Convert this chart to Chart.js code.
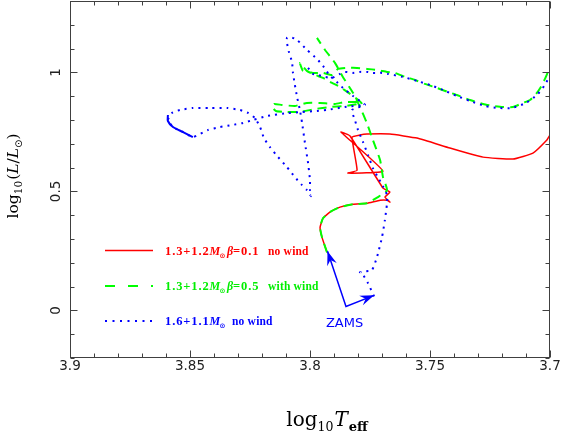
<!DOCTYPE html>
<html><head><meta charset="utf-8">
<script src="https://cdn.jsdelivr.net/npm/chart.js@4.4.1/dist/chart.umd.min.js"></script>
<style>html,body{margin:0;padding:0;background:#fff;}canvas{display:block;}</style>
</head><body>
<canvas id="c" width="561" height="436"></canvas>
<script>
// ---- axis ticks ----
const xMajorTicks = [3.9, 3.85, 3.8, 3.75, 3.7];
const yMajorTicks = [0, 0.5, 1];
const yTickLabels = ['0', '0.5', '1'];

// ---- tracks: [log Teff, log L/Lsun]; null = gap ----
const redTrack = [[3.7929,0.244],[3.795,0.307],[3.7958,0.349],[3.7946,0.387],[3.7917,0.413],[3.7875,0.434],[3.7821,0.446],[3.7763,0.450],[3.7708,0.463],[3.7679,0.463],[3.7667,0.455],[3.7688,0.476],[3.7667,0.497],[3.7696,0.514],[3.7833,0.733],[3.7871,0.75],[3.7858,0.737],[3.7696,0.585],[3.7842,0.577],[3.7804,0.589],[3.7825,0.728],[3.7792,0.737],[3.7763,0.741],[3.7667,0.741],[3.7554,0.724],[3.7417,0.682],[3.7279,0.644],[3.7154,0.636],[3.7071,0.661],[3.7013,0.716],[3.7,0.737]];

const greenTrack = [[3.7929,0.244],[3.795,0.307],[3.7958,0.349],[3.7946,0.387],[3.7917,0.413],[3.7875,0.434],[3.7821,0.446],[3.7763,0.450],[3.7717,0.476],[3.7679,0.505],[3.7696,0.56],[3.7708,0.632],[3.7738,0.716],[3.7763,0.787],[3.7792,0.855],[3.7821,0.914],[3.7863,0.981],[3.7896,1.04],[3.7938,1.095],[3.7971,1.145],
null,
[3.7804,0.8758],[3.7854,0.8758],[3.7896,0.8674],[3.7958,0.8716],[3.8013,0.8716],[3.8063,0.8589],[3.8117,0.8632],[3.815,0.8674],[3.8158,0.8547],[3.8142,0.8379],[3.8096,0.8337],[3.8042,0.8337],[3.7979,0.8463],[3.7917,0.8547],[3.7854,0.8589],[3.78,0.8674],[3.7783,0.8674],[3.7804,0.8884],[3.7833,0.9095],[3.7875,0.9389],[3.7908,0.9558],[3.7946,0.9768],[3.7979,0.9895],[3.8013,1.0063],[3.8042,1.04],[3.8029,1.0063],[3.7988,0.9979],[3.7946,0.9979],[3.7908,0.9895],[3.7883,1.0147],[3.7842,1.0189],[3.7804,1.0189],[3.7763,1.0147],[3.7721,1.0105],[3.7679,1.0021],[3.7646,0.9979],[3.7604,0.9811],[3.7563,0.9684],[3.7521,0.9516],[3.7471,0.9347],[3.7425,0.9179],[3.7388,0.9053],[3.7333,0.8842],[3.7279,0.8674],[3.7238,0.8589],[3.7196,0.8547],[3.7154,0.8547],[3.7113,0.8716],[3.7083,0.8842],[3.7058,0.9095],[3.7038,0.9389],[3.7021,0.9726],[3.7,1.0232]];

const blueTrack = [[3.7733,0.0589],[3.7758,0.1137],[3.7783,0.1558],[3.7792,0.16],[3.7767,0.1642],[3.7742,0.1684],[3.7721,0.2232],[3.77,0.3074],[3.7688,0.3789],[3.7679,0.4505],[3.7679,0.4842],
[3.7696,0.5221],[3.7717,0.56],[3.7738,0.5979],[3.7758,0.6526],[3.7779,0.7074],[3.78,0.7579],[3.7813,0.8],[3.7825,0.8421],
[3.7771,0.8632],[3.7792,0.88],[3.7821,0.9011],[3.7863,0.9347],[3.7888,0.96],[3.7917,0.9853],[3.7946,1.0274],[3.7971,1.0568],[3.8013,1.0947],[3.8054,1.1368],[3.8083,1.1495],[3.8096,1.1453],[3.8096,1.1242],[3.8088,1.0863],[3.8075,1.0442],[3.8071,0.9979],[3.8063,0.9474],[3.8054,0.8968],[3.8042,0.8421],[3.8033,0.7874],[3.8021,0.7032],[3.8008,0.6189],[3.8,0.5474],[3.8,0.5053],[3.7996,0.48],
[3.8013,0.5053],[3.8033,0.5263],[3.8063,0.56],[3.8096,0.6021],[3.8133,0.6442],[3.8167,0.6863],[3.8192,0.7242],[3.8208,0.7705],[3.8229,0.8084],[3.8258,0.8295],[3.8292,0.8421],[3.8346,0.8505],[3.8417,0.8505],[3.8488,0.8505],[3.8542,0.8421],[3.8575,0.8295],[3.8592,0.8],[3.8571,0.7705],[3.8529,0.7495],[3.8488,0.7284],
[3.8425,0.7579],[3.8375,0.7705],[3.8325,0.7789],[3.8279,0.7874],[3.8238,0.8],[3.8179,0.8168],[3.8092,0.8295],[3.8033,0.8337],[3.7971,0.8379],[3.7929,0.8421],[3.7854,0.8547],[3.7771,0.8632],
null,
[3.8008,1.0189],[3.7988,0.9937],[3.7967,0.9895],[3.7938,0.9811],[3.7908,0.9768],[3.7875,0.9937],[3.7854,1.0021],[3.7821,0.9979],[3.7792,1.0021],[3.7763,1.0021],[3.7738,0.9979],[3.77,0.9979],[3.7675,0.9937],[3.7613,0.9811],[3.7554,0.9642],[3.75,0.9474],[3.7446,0.9263],[3.7388,0.9011],[3.7333,0.88],[3.7271,0.8589],[3.7217,0.8505],[3.7158,0.8505],[3.71,0.8716],[3.7054,0.9053],[3.7021,0.9474],[3.7008,0.9726],[3.7,0.9895]];

const blueSlowPart = [[3.8592,0.8211],[3.8592,0.7958],[3.8571,0.7705],[3.8529,0.7495],[3.8488,0.7284]];

// ZAMS annotation: arrow tip (red/green start), vertex, arrow tip (blue start)
const zamsArrow = [[3.7927,0.2484],[3.785,0.0168],[3.7733,0.0632]];
const zamsLabelAt = [3.7856,-0.05];

const toXY = arr => arr.map(p => p ? {x:p[0], y:p[1]} : {x:NaN, y:NaN});

const RED='#ff0000', GREEN='#00ff00', BLUE='#0000ff';

function rich(ctx, x, y, parts){
  let cx = x;
  for (const p of parts){ ctx.font = p[1]; ctx.fillText(p[0], cx, y + (p[2]||0)); cx += ctx.measureText(p[0]).width + (p[3]||0); }
  return cx - x;
}
function richW(ctx, parts){ let w=0; for (const p of parts){ ctx.font=p[1]; w += ctx.measureText(p[0]).width + (p[3]||0);} return w; }
// parts placed at explicit x offsets: [text, font, dx, dy, letterSpacing]
function placed(ctx, x, y, parts){
  for (const p of parts){
    ctx.font=p[1];
    if ('letterSpacing' in ctx) ctx.letterSpacing = (p[4]||0)+'px';
    ctx.fillText(p[0], x+p[2], y+(p[3]||0));
  }
  if ('letterSpacing' in ctx) ctx.letterSpacing='0px';
}

function arrowHead(ctx, x0,y0,x1,y1){
  const ang=Math.atan2(y1-y0,x1-x0), len=14, w=5;
  ctx.save(); ctx.translate(x1,y1); ctx.rotate(ang);
  ctx.beginPath(); ctx.moveTo(0,0); ctx.lineTo(-len,-w); ctx.lineTo(-len*0.65,0); ctx.lineTo(-len,w); ctx.closePath(); ctx.fill();
  ctx.restore();
}

const decor = {
  id:'decor',
  afterDatasetsDraw(chart){
    const {ctx, chartArea:a, scales:{x,y}} = chart;
    ctx.save();
    ctx.setLineDash([]);
    // frame
    ctx.strokeStyle='#404040'; ctx.lineWidth=1;
    const L=Math.round(a.left)+0.5, R=Math.round(a.right)-0.5, T=Math.round(a.top)+0.5, B=Math.round(a.bottom)-0.5;
    ctx.strokeRect(L,T,R-L,B-T);
    ctx.beginPath();
    for (let i=0;i<=20;i++){
      const v=3.7+i*0.01, px=Math.round(x.getPixelForValue(v))+0.5, len=(i%5===0)?7:4;
      ctx.moveTo(px,B); ctx.lineTo(px,B-len); ctx.moveTo(px,T); ctx.lineTo(px,T+len);
    }
    for (let i=0;i<=15;i++){
      const v=-0.2+i*0.1, py=Math.round(y.getPixelForValue(v))+0.5, len=((i-2)%5===0)?7:4;
      ctx.moveTo(L,py); ctx.lineTo(L+len,py); ctx.moveTo(R,py); ctx.lineTo(R-len,py);
    }
    ctx.stroke();

    // y tick labels (rotated)
    ctx.fillStyle='#222'; ctx.font='13.5px "DejaVu Sans"'; ctx.textAlign='center'; ctx.textBaseline='alphabetic';
    yMajorTicks.forEach((v,i)=>{
      ctx.save(); ctx.translate(a.left-10, y.getPixelForValue(v)); ctx.rotate(-Math.PI/2);
      ctx.fillText(yTickLabels[i],0,0); ctx.restore();
    });
    ctx.textAlign='left';

    // axis titles
    const F='15.5px "DejaVu Serif"', FI='italic 15.5px "DejaVu Serif"', FS='10.5px "DejaVu Serif"';
    const yt=[['log',F],['10',FS,4,1],['(',F],['L',FI],['/',F],['L',FI],['\u2299','10px "DejaVu Sans"',4],[')',F]];
    ctx.fillStyle='#000';
    ctx.save(); ctx.translate(18,176); ctx.rotate(-Math.PI/2);
    rich(ctx,-richW(ctx,yt)/2,0,yt); ctx.restore();
    const XF='20px "DejaVu Serif"', XFI='italic 20px "DejaVu Serif"';
    const xt=[['log',XF],['10','12.5px "DejaVu Serif"',5,1],['T',XFI,0,1],['eff','bold 13px "DejaVu Serif"',5]];
    rich(ctx,327-richW(ctx,xt)/2,426,xt);

    // legend
    const lx0=a.left+35, lx1=a.left+83, tx=a.left+95;
    ctx.lineWidth=1.5; ctx.strokeStyle=RED; ctx.setLineDash([]);
    ctx.beginPath(); ctx.moveTo(lx0,250.5); ctx.lineTo(lx1,250.5); ctx.stroke();
    ctx.lineWidth=2; ctx.strokeStyle=GREEN; ctx.setLineDash([10,13]);
    ctx.beginPath(); ctx.moveTo(lx0,286); ctx.lineTo(lx1,286); ctx.stroke();
    ctx.strokeStyle=BLUE; ctx.setLineDash([2,5.5]);
    ctx.beginPath(); ctx.moveTo(lx0,321); ctx.lineTo(lx1,321); ctx.stroke();
    ctx.setLineDash([]);
    const D='bold 12.5px "Liberation Serif"', DI='bold italic 12px "Liberation Serif"', W='bold 11.5px "Liberation Serif"', SUN='bold 7px "DejaVu Sans"';
    ctx.fillStyle=RED;
    placed(ctx,tx,255,[['1.3+1.2',D,0,0,0.9],['M',DI,44.5],['\u2299',SUN,54.5,3],['\u03B2',DI,62],['=0.1',D,68,0,0.9],['no wind',W,103,0,0.2]]);
    ctx.fillStyle='#00ee00';
    placed(ctx,tx,290,[['1.3+1.2',D,0,0,0.9],['M',DI,44.5],['\u2299',SUN,54.5,3],['\u03B2',DI,62],['=0.5',D,68,0,0.9],['with wind',W,103,0,0.2]]);
    ctx.fillStyle=BLUE;
    placed(ctx,tx,325,[['1.6+1.1',D,0,0,0.9],['M',DI,44.5],['\u2299',SUN,54.5,3],['no wind',W,67,0,0.2]]);

    // ZAMS arrow heads + label
    const p=zamsArrow.map(q=>[x.getPixelForValue(q[0]), y.getPixelForValue(q[1])]);
    ctx.fillStyle=BLUE;
    arrowHead(ctx,p[1][0],p[1][1],p[0][0],p[0][1]);
    arrowHead(ctx,p[1][0],p[1][1],p[2][0],p[2][1]);
    ctx.font='13px "DejaVu Sans"'; ctx.textAlign='center';
    ctx.fillText('ZAMS', x.getPixelForValue(zamsLabelAt[0]), y.getPixelForValue(zamsLabelAt[1])+5);
    ctx.restore();
  }
};

new Chart(document.getElementById('c'), {
  type:'scatter',
  data:{datasets:[
    {label:'1.6+1.1 no wind (slow)', data:toXY(blueSlowPart), showLine:true, borderColor:BLUE, borderWidth:2, pointRadius:0, tension:0.3, order:0},
    {label:'1.6+1.1 no wind', data:toXY(blueTrack), showLine:true, borderColor:BLUE, borderWidth:2, borderDash:[2,5], pointRadius:0, tension:0.15, order:1},
    {label:'ZAMS', data:toXY(zamsArrow), showLine:true, borderColor:BLUE, borderWidth:1.5, pointRadius:0, tension:0, order:2},
    {label:'1.3+1.2 beta=0.5 with wind', data:toXY(greenTrack), showLine:true, borderColor:GREEN, borderWidth:2, borderDash:[9,6], pointRadius:0, tension:0.15, order:3},
    {label:'1.3+1.2 beta=0.1 no wind', data:toXY(redTrack), showLine:true, borderColor:RED, borderWidth:1.5, pointRadius:0, tension:0.12, order:4}
  ]},
  options:{
    responsive:false, animation:false, devicePixelRatio:1,
    layout:{padding:{top:1,right:11,left:0,bottom:0}},
    plugins:{legend:{display:false}, tooltip:{enabled:false}},
    scales:{
      x:{type:'linear', reverse:true, min:3.7, max:3.9,
         ticks:{stepSize:0.05, padding:0, color:'#222', font:{family:'DejaVu Sans', size:13.5}, callback:v=>String(+v.toFixed(2))},
         grid:{display:false, drawTicks:false}, border:{display:false},
         afterFit(s){s.height=78;}},
      y:{type:'linear', min:-0.2, max:1.3,
         ticks:{display:false}, grid:{display:false, drawTicks:false}, border:{display:false},
         afterFit(s){s.width=70;}}
    }
  },
  plugins:[decor]
});
</script>
</body></html>
